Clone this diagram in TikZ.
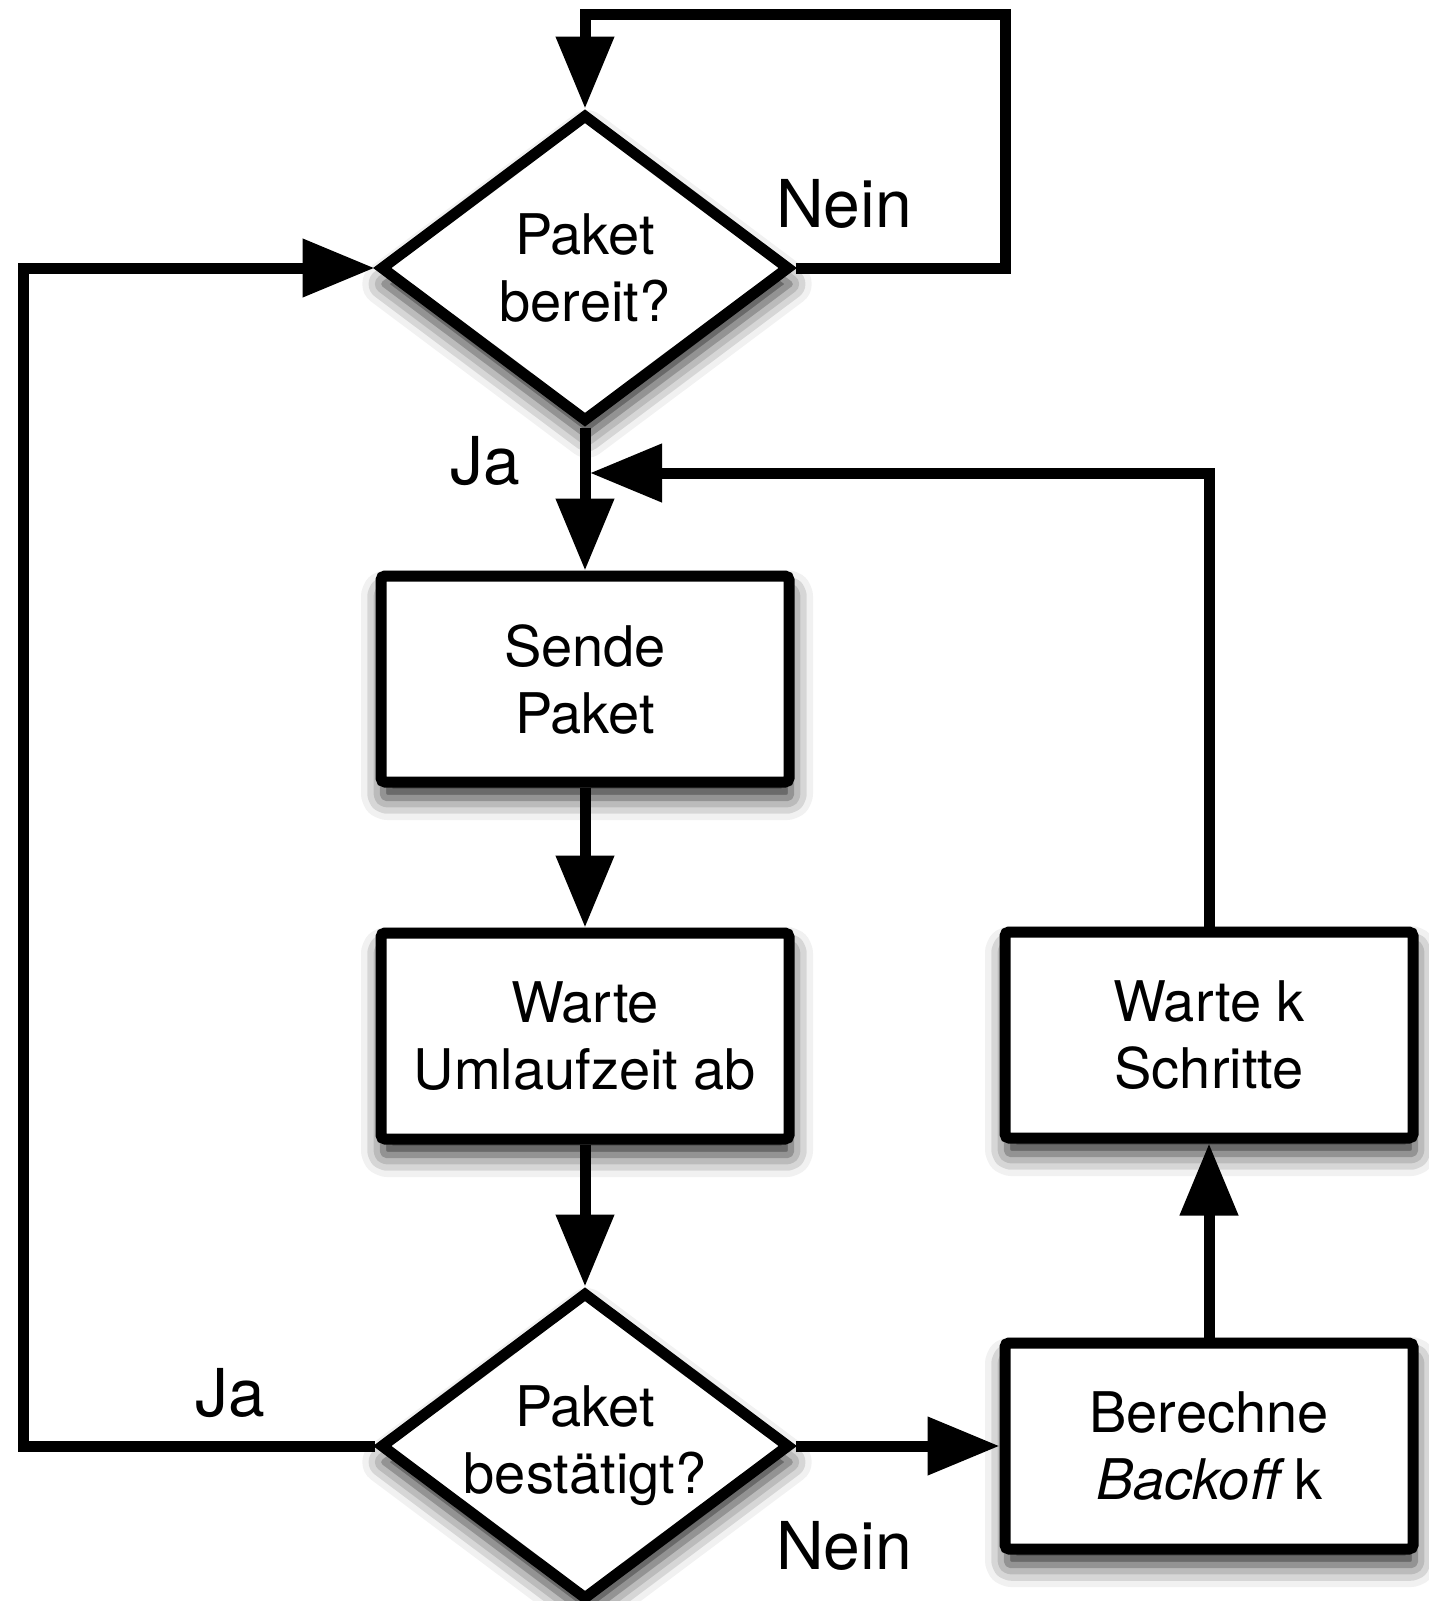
\documentclass[tikz,border=0pt]{standalone}
\usepackage{fontspec}
\setmainfont{TeX Gyre Heros}
\usepackage{tikz}
\usetikzlibrary{positioning,arrows.meta,shapes.geometric,shadows.blur}

\begin{document}
\begin{tikzpicture}[x=0.5pt,y=-0.5pt,line width=5.5pt,
  font=\fontsize{28}{33.5}\selectfont,
  shd/.style={blur shadow={shadow xshift=1pt,shadow yshift=-8pt,shadow blur radius=11pt,shadow opacity=85}},
  box/.style={rectangle,rounded corners=2pt,draw,fill=white,align=center,minimum width=204pt,minimum height=103pt,inner sep=0pt,shd},
  dec/.style={diamond,draw,fill=white,align=center,aspect=1.33,minimum width=205pt,minimum height=154pt,inner sep=0pt,shd},
  lab/.style={font=\fontsize{33}{40}\selectfont},
  ar/.style={-{Triangle[length=36pt,width=28pt]}}]
\useasboundingbox (0,0) rectangle (1429,1601);
% ---- main column ----
\node[dec] (ready) at (585,268) {Paket\\bereit?};
\node[box] (send) at (585,679) {Sende\\Paket};
\node[box] (rtt) at (585,1036) {Warte\\Umlaufzeit ab};
\node[dec] (ack) at (585,1446) {Paket\\bestätigt?};
% ---- right column ----
\node[box] (backoff) at (1209,1446) {Berechne\\\textit{Backoff}\,k};
\node[box] (waitk) at (1209,1035) {Warte k\\Schritte};
% ---- bends ----
\coordinate (tr) at (1005,14);
\coordinate (lft) at (23,1446);
\coordinate (join) at (590,473);
% ---- arrows ----
\draw[ar] (ready.south) -- (send.north);
\draw[ar] (send.south) -- (rtt.north);
\draw[ar] (rtt.south) -- (ack.north);
\draw[ar] (ack.east) -- (backoff.west);
\draw[ar] (backoff.north) -- (waitk.south);
\draw[ar] (waitk.north) |- (join);
\draw[ar] (ready.east) -| (tr) -| (ready.north);
\draw[ar] (ack.west) -- (lft) |- (ready.west);
% ---- labels ----
\node[lab] (nein1) at (844,204) {Nein};
\node[lab] (ja1) at (485,461) {Ja};
\node[lab] (ja2) at (230,1393) {Ja};
\node[lab] (nein2) at (844,1546) {Nein};
\end{tikzpicture}
\end{document}
